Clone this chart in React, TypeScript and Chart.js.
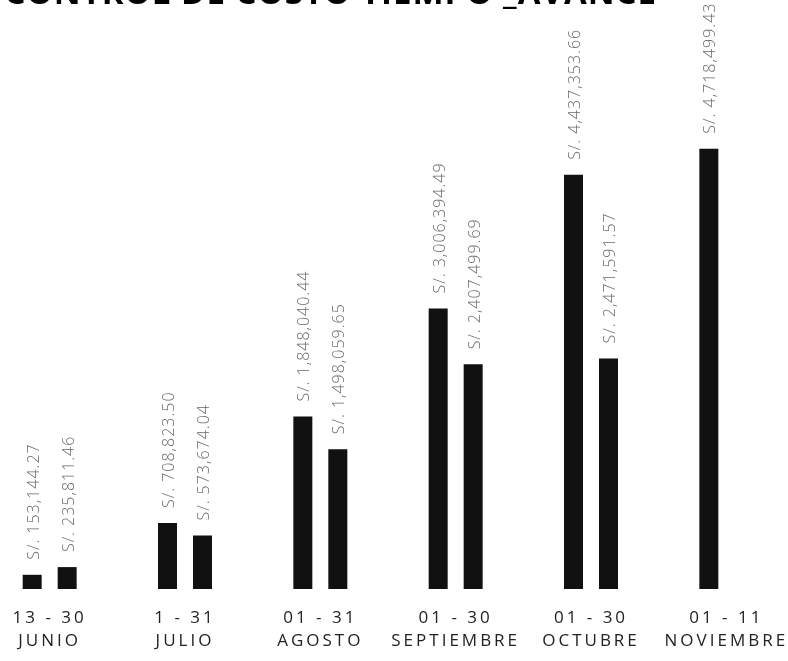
import React, { useEffect, useRef } from "react";
import { Chart, registerables } from "chart.js";

Chart.register(...registerables);

const titleText = "CONTROL DE COSTO TIEMPO _AVANCE";
const rangeLabels = ["13 - 30", "1 - 31", "01 - 31", "01 - 30", "01 - 30", "01 - 11"];
const monthLabels = ["JUNIO", "JULIO", "AGOSTO", "SEPTIEMBRE", "OCTUBRE", "NOVIEMBRE"];
const seriesA = [153144.27, 708823.5, 1848040.44, 3006394.49, 4437353.66, 4718499.43];
const seriesB: (number | null)[] = [235811.46, 573674.04, 1498059.65, 2407499.69, 2471591.57, null];

const fmt = (v: number) =>
  "S/. " + v.toLocaleString("en-US", { minimumFractionDigits: 2, maximumFractionDigits: 2 });

const letterSpacingPlugin = {
  id: "tickSpacing",
  beforeDraw(chart: any) {
    (chart.ctx as any).letterSpacing = "3px";
  },
  beforeDatasetsDraw(chart: any) {
    (chart.ctx as any).letterSpacing = "0px";
  },
};

const valueLabelPlugin = {
  id: "valueLabels",
  afterDatasetsDraw(chart: any) {
    const ctx = chart.ctx;
    chart.data.datasets.forEach((ds: any, i: number) => {
      const meta = chart.getDatasetMeta(i);
      meta.data.forEach((bar: any, j: number) => {
        const v = ds.data[j];
        if (v == null) return;
        ctx.save();
        (ctx as any).letterSpacing = "1px";
        ctx.font = '300 16px "Open Sans"';
        ctx.fillStyle = "#6a6a6a";
        ctx.translate(bar.x + 2, bar.y - 15);
        ctx.rotate(-Math.PI / 2);
        ctx.textAlign = "left";
        ctx.textBaseline = "middle";
        ctx.fillText(fmt(v), 0, 0);
        ctx.restore();
      });
    });
  },
};

const titlePlugin = {
  id: "cutTitle",
  afterDraw(chart: any) {
    const ctx = chart.ctx;
    ctx.save();
    (ctx as any).letterSpacing = "1px";
    ctx.font = 'bold 33px "Open Sans"';
    ctx.fillStyle = "#000";
    ctx.textAlign = "right";
    ctx.textBaseline = "alphabetic";
    ctx.fillText(titleText, 675, 4);
    ctx.restore();
  },
};

export default function App() {
  const ref = useRef<HTMLCanvasElement>(null);
  useEffect(() => {
    if (!ref.current) return;
    const chart = new Chart(ref.current, {
      type: "bar",
      data: {
        labels: rangeLabels.map((r, i) => [r, monthLabels[i]]),
        datasets: [
          { label: "A", data: seriesA, backgroundColor: "#111", categoryPercentage: 0.517, barPercentage: 0.543 },
          { label: "B", data: seriesB, backgroundColor: "#111", categoryPercentage: 0.517, barPercentage: 0.543 },
        ],
      },
      options: {
        animation: false,
        responsive: true,
        maintainAspectRatio: false,
        layout: { padding: { top: 29, bottom: 0, left: 0, right: 0 } },
        plugins: { legend: { display: false }, tooltip: { enabled: false }, title: { display: false } },
        scales: {
          x: {
            grid: { display: false, drawTicks: false },
            border: { display: false },
            ticks: {
              color: "#222",
              font: { family: "Open Sans", size: 17, lineHeight: 1.35 },
              padding: 18,
              maxRotation: 0,
              autoSkip: false,
            },
          },
          y: { display: false, min: 0, max: 6000000 },
        },
      },
      plugins: [letterSpacingPlugin, valueLabelPlugin, titlePlugin],
    });
    return () => chart.destroy();
  }, []);
  return (
    <div style={{ position: "fixed", left: 0, top: 0, width: 788, height: 661, overflow: "hidden", background: "#fff" }}>
      <div style={{ position: "absolute", left: -18, top: 0, width: 812, height: 671 }}>
        <canvas ref={ref} />
      </div>
    </div>
  );
}
